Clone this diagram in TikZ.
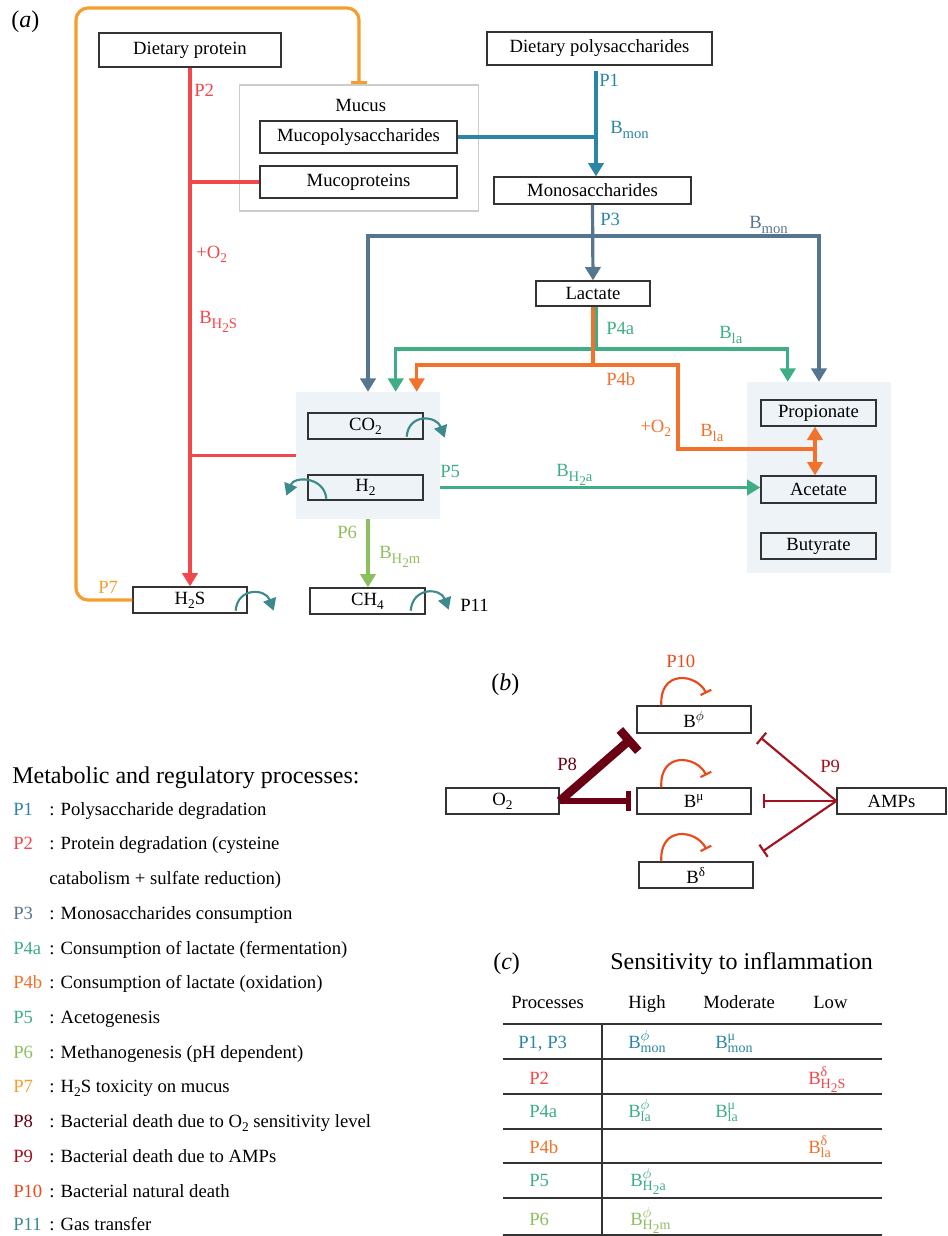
\documentclass[tikz,border=0pt]{standalone}
\usepackage{fontspec}
\setmainfont{Liberation Serif}
\usetikzlibrary{arrows.meta,calc}
\definecolor{cP1}{HTML}{2B85A6}
\definecolor{cP2}{HTML}{F2474B}
\definecolor{cP3}{HTML}{56758F}
\definecolor{cP4a}{HTML}{3FAE85}
\definecolor{cP4b}{HTML}{F2722B}
\definecolor{cP6}{HTML}{8DBF5E}
\definecolor{cP7}{HTML}{F59E2E}
\definecolor{cP8}{HTML}{6A0014}
\definecolor{cP9}{HTML}{A3121F}
\definecolor{cP10}{HTML}{E84A1B}
\definecolor{cP11}{HTML}{3D8A8C}
\definecolor{grp}{HTML}{EEF3F8}
\definecolor{mucg}{HTML}{CCCCCC}
\definecolor{boxc}{HTML}{333333}
\newcommand\Bsub[1]{B\raisebox{-4pt}{\fontsize{11}{12}\selectfont #1}}
\newcommand\Bss[2]{B\rlap{\raisebox{5.5pt}{\fontsize{10.5}{11}\selectfont #1}}\raisebox{-3.5pt}{\fontsize{10.5}{11}\selectfont #2}}
\newcommand\subt[1]{\raisebox{-3pt}{\fontsize{10}{11}\selectfont #1}}
\tikzset{
  box/.style={draw=boxc,line width=1pt,inner sep=0pt},
  wh/.style 2 args={minimum width=#1*0.75pt,minimum height=#2*0.75pt},
  arr/.style={-{Triangle[width=11.5pt,length=10pt]}},
  ln/.style={line width=2.4pt},
  p1/.style={ln,draw=cP1}, p2/.style={ln,draw=cP2}, p3/.style={ln,draw=cP3},
  p4a/.style={ln,draw=cP4a}, p4b/.style={ln,draw=cP4b}, p6/.style={ln,draw=cP6},
  p7/.style={ln,draw=cP7},
  gas/.style={line width=1.6pt,draw=cP11,-{Triangle[width=10pt,length=9pt]}},
  loopd/.style={line width=1.6pt,draw=cP10,-{Bar[width=9pt]}},
  p9l/.style={line width=1.6pt,draw=cP9,-{Bar[width=11pt]}},
  lbl/.style={inner sep=0pt,anchor=base west},
  big/.style={font=\fontsize{18}{20}\selectfont},
  tab/.style={line width=0.9pt,draw=boxc}
}
\begin{document}
\begin{tikzpicture}[x=0.75pt,y=-0.75pt,font=\fontsize{14}{16}\selectfont]
\useasboundingbox (0,0) rectangle (948,1236);

% ---------- (a) backgrounds ----------
\node[fill=grp,inner sep=0pt,wh={144}{191}] (sbox) at (819,477.5) {};
\node[fill=grp,inner sep=0pt,wh={144}{127}] (gbox) at (368,455.5) {};
\node[draw=mucg,line width=0.8pt,inner sep=0pt,wh={239}{126}] (mucus) at (359,148) {};

% ---------- (a) boxes ----------
\node[box,wh={182}{34}] (dprot) at (190,50) {Dietary protein};
\node[box,wh={197}{32}] (mpoly) at (358.5,137) {Mucopolysaccharides};
\node[box,wh={197}{32}] (mprot) at (358.5,182) {Mucoproteins};
\node[box,wh={225}{33}] (dpoly) at (599.5,48.5) {Dietary polysaccharides};
\node[box,wh={197}{27}] (mono) at (592.5,190.5) {Monosaccharides};
\node[box,wh={114}{25}] (lact) at (593,293.5) {Lactate};
\node[box,wh={115}{26}] (prop) at (818.5,413) {Propionate};
\node[box,wh={115}{27}] (acet) at (818.5,489.5) {Acetate};
\node[box,wh={115}{26}] (buty) at (818.5,546) {Butyrate};
\node[box,wh={115}{26}] (co2) at (365.5,426) {CO\subt{2}};
\node[box,wh={115}{25}] (h2) at (365.5,487.5) {H\subt{2}};
\node[box,wh={114}{26}] (h2s) at (190,600) {H\subt{2}S};
\node[box,wh={115}{26}] (ch4) at (367.5,601) {CH\subt{4}};
\node[lbl] (mucust) at (335,111) {Mucus};
\node[lbl,big] (la) at (11,27) {(\textit{a})};

% ---------- (a) connectors ----------
\coordinate (c7) at (76,8);
\draw[p7,rounded corners=9pt,-{Bar[width=12pt]}] (h2s.west) -| (c7) -| (mucus.north);

\draw[p2,arr] (dprot.south) -- (h2s.north);
\draw[p2] (mprot.west) -- (mprot.west -| dprot.south);
\draw[p2] (gbox.west) -- (gbox.west -| dprot.south);

\coordinate (p1j) at (596,137);
\draw[p1,arr] ($(dpoly.south)+(-3.5,5)$) -- ($(mono.north)+(3.5,0)$);
\draw[p1] (mpoly.east) -- (p1j);

\coordinate (j3) at (593,236);
\draw[p3,arr] (mono.south) -- (lact.north);
\draw[p3,arr] (j3) -| (gbox.north);
\draw[p3,arr] (j3) -| (sbox.north);

\coordinate (g0) at ($(lact.south)+(3,0)$);
\coordinate (g1) at (596,349);
\draw[p4a,arr] (g0) -- (g1) -| ($(gbox.north west)+(100,0)$);
\draw[p4a,arr] (g1) -| ($(sbox.north west)+(41,0)$);

\coordinate (o1) at (593,365);
\coordinate (o2) at (678,449);
\coordinate (j4) at (815,449);
\draw[p4b,arr] (lact.south) -- (o1) -| ($(gbox.north west)+(121,0)$);
\draw[p4b] (o1) -| (o2) -- (j4);
\draw[p4b,arr] (j4) -- (j4 |- prop.south);
\draw[p4b,arr] (j4) -- (j4 |- acet.north);

\draw[p4a,arr] (gbox.east |- h2.east) -- (acet.west |- h2.east);
\draw[p6,arr] (gbox.south) -- (gbox.south |- ch4.north);

% gas transfer
\draw[gas] ($(co2.south east)+(-17,-3)$) .. controls +(2,-24) and +(-8,-22) .. ($(co2.south east)+(21,-2)$);
\draw[gas] ($(h2.south west)+(19,-2)$) .. controls +(-2,-22) and +(8,-20) .. ($(h2.south west)+(-21,-5)$);
\draw[gas] ($(h2s.south east)+(-12,-3)$) .. controls +(2,-24) and +(-8,-22) .. ($(h2s.south east)+(26,-3)$);
\draw[gas] ($(ch4.south east)+(-15,-4)$) .. controls +(2,-24) and +(-8,-22) .. ($(ch4.south east)+(23,-5)$);

% labels (a)
\node[lbl,text=cP2] (tP2) at (194,96) {P2};
\node[lbl,text=cP2] (tO2a) at (196,258) {+O\subt{2}};
\node[lbl,text=cP2] (tBh2s) at (199,323) {\Bsub{H\subt{2}S}};
\node[lbl,text=cP1] (tP1) at (599,86) {P1};
\node[lbl,text=cP1] (tBmon1) at (610,133) {\Bsub{mon}};
\node[lbl,text=cP1] (tP3) at (600,225) {P3};
\node[lbl,text=cP3] (tBmon3) at (749,228) {\Bsub{mon}};
\node[lbl,text=cP4a] (tP4a) at (606,334) {P4a};
\node[lbl,text=cP4a] (tBla1) at (719,338) {\Bsub{la}};
\node[lbl,text=cP4b] (tP4b) at (606,385) {P4b};
\node[lbl,text=cP4b] (tO2b) at (640,432) {+O\subt{2}};
\node[lbl,text=cP4b] (tBla2) at (700,436) {\Bsub{la}};
\node[lbl,text=cP4a] (tP5) at (440,477) {P5};
\node[lbl,text=cP4a] (tBh2a) at (556,476) {\Bsub{H\subt{2}a}};
\node[lbl,text=cP6] (tP6) at (337,538) {P6};
\node[lbl,text=cP6] (tBh2m) at (379,558) {\Bsub{H\subt{2}m}};
\node[lbl,text=cP7] (tP7) at (98,593) {P7};
\node[lbl] (tP11) at (460,611) {P11};

% ---------- (b) ----------
\node[lbl,big] (lb) at (491,690) {(\textit{b})};
\node[box,wh={114}{27}] (bphi) at (694,719.5) {B\textsuperscript{$\phi$}};
\node[box,wh={114}{26}] (bmu) at (694,801) {B\textsuperscript{μ}};
\node[box,wh={114}{26}] (bdel) at (696,875) {B\textsuperscript{δ}};
\node[box,wh={113}{26}] (o2n) at (502.5,801) {O\subt{2}};
\node[box,wh={109}{26}] (amps) at (891.5,801) {AMPs};

\draw[line width=6.5pt,draw=cP8,-{Bar[width=21pt]}] (o2n.east) -- ($(bphi.south west)+(-4,4)$);
\draw[line width=3.8pt,draw=cP8,-{Bar[width=15pt]}] (o2n.east) -- ($(bmu.west)+(-5,0)$);
\draw[p9l] (amps.west) -- ($(bphi.south east)+(9,4)$);
\draw[p9l] (amps.west) -- ($(bmu.east)+(11,0)$);
\draw[p9l] (amps.west) -- ($(bdel.north east)+(9,-10)$);

\draw[loopd] ($(bphi.north west)+(25,0)$) .. controls +(-2,-36) and +(-10,-20) .. ($(bphi.north west)+(70,-12)$);
\draw[loopd] ($(bmu.north west)+(25,0)$) .. controls +(-2,-36) and +(-10,-20) .. ($(bmu.north west)+(70,-12)$);
\draw[loopd] ($(bdel.north west)+(23,0)$) .. controls +(-2,-36) and +(-10,-20) .. ($(bdel.north west)+(68,-12)$);

\node[lbl,text=cP10] (tP10) at (666,667) {P10};
\node[lbl,text=cP8] (tP8) at (557,770) {P8};
\node[lbl,text=cP9] (tP9) at (820,772) {P9};

% ---------- legend ----------
\node[lbl,big] (lh) at (12,783) {Metabolic and regulatory processes:};
\node[lbl,text=cP1] (L1) at (13,815) {P1};
\node[lbl] (L1d) at (49,815) {: Polysaccharide degradation};
\node[lbl,text=cP2] (L2) at (13,849) {P2};
\node[lbl] (L2d) at (49,849) {: Protein degradation (cysteine};
\node[lbl] (L2e) at (49,884) {catabolism + sulfate reduction)};
\node[lbl,text=cP3] (L3) at (13,919) {P3};
\node[lbl] (L3d) at (49,919) {: Monosaccharides consumption};
\node[lbl,text=cP4a] (L4a) at (13,954) {P4a};
\node[lbl] (L4ad) at (49,954) {: Consumption of lactate (fermentation)};
\node[lbl,text=cP4b] (L4b) at (13,988) {P4b};
\node[lbl] (L4bd) at (49,988) {: Consumption of lactate (oxidation)};
\node[lbl,text=cP4a] (L5) at (13,1023) {P5};
\node[lbl] (L5d) at (49,1023) {: Acetogenesis};
\node[lbl,text=cP6] (L6) at (13,1058) {P6};
\node[lbl] (L6d) at (49,1058) {: Methanogenesis (pH dependent)};
\node[lbl,text=cP7] (L7) at (13,1092) {P7};
\node[lbl] (L7d) at (49,1092) {: H\subt{2}S toxicity on mucus};
\node[lbl,text=cP8] (L8) at (13,1127) {P8};
\node[lbl] (L8d) at (49,1127) {: Bacterial death due to O\subt{2} sensitivity level};
\node[lbl,text=cP9] (L9) at (13,1162) {P9};
\node[lbl] (L9d) at (49,1162) {: Bacterial death due to AMPs};
\node[lbl,text=cP10] (L10) at (13,1197) {P10};
\node[lbl] (L10d) at (49,1197) {: Bacterial natural death};
\node[lbl,text=cP11] (L11) at (13,1230) {P11};
\node[lbl] (L11d) at (49,1230) {: Gas transfer};

% ---------- (c) table ----------
\node[lbl,big] (lc) at (493,969) {(\textit{c})};
\node[lbl,big] (sens) at (610,969) {Sensitivity to inflammation};
\node[lbl] (hP) at (511,1008) {Processes};
\node[lbl] (hH) at (628,1008) {High};
\node[lbl] (hM) at (703,1008) {Moderate};
\node[lbl] (hL) at (813,1008) {Low};
\foreach \yy in {1024,1059,1094,1129,1163,1198,1235}
  \draw[tab] (503,\yy) -- (882,\yy);
\draw[tab] (602,1024) -- (602,1236);
\node[lbl,text=cP1] (r1) at (518,1048) {P1, P3};
\node[lbl,text=cP1] (r1h) at (628,1048) {\Bss{$\phi$}{mon}};
\node[lbl,text=cP1] (r1m) at (715,1048) {\Bss{μ}{mon}};
\node[lbl,text=cP2] (r2) at (529,1084) {P2};
\node[lbl,text=cP2] (r2l) at (808,1084) {\Bss{δ}{H\subt{2}S}};
\node[lbl,text=cP4a] (r3) at (529,1117) {P4a};
\node[lbl,text=cP4a] (r3h) at (628,1117) {\Bss{$\phi$}{la}};
\node[lbl,text=cP4a] (r3m) at (715,1117) {\Bss{μ}{la}};
\node[lbl,text=cP4b] (r4) at (529,1153) {P4b};
\node[lbl,text=cP4b] (r4l) at (808,1153) {\Bss{δ}{la}};
\node[lbl,text=cP4a] (r5) at (529,1186) {P5};
\node[lbl,text=cP4a] (r5h) at (630,1186) {\Bss{$\phi$}{H\subt{2}a}};
\node[lbl,text=cP6] (r6) at (529,1225) {P6};
\node[lbl,text=cP6] (r6h) at (630,1225) {\Bss{$\phi$}{H\subt{2}m}};
\end{tikzpicture}
\end{document}
